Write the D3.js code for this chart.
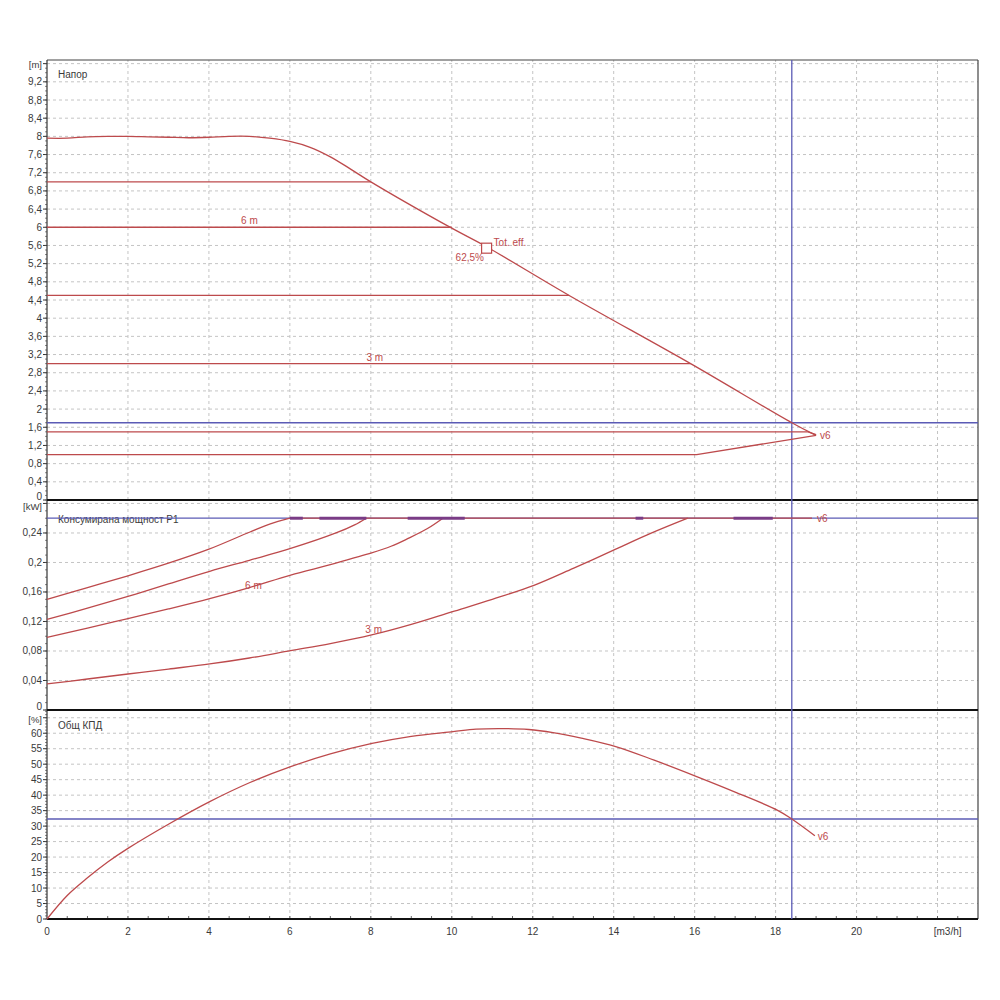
<!DOCTYPE html>
<html><head><meta charset="utf-8">
<script src="https://cdn.jsdelivr.net/npm/d3@7"></script>
<style>body{margin:0;background:#fff} svg{display:block} text{font-family:Arial,"Liberation Sans",sans-serif}</style>
</head><body><svg id="c" width="1000" height="1000"></svg>
<script>
// ---------------- DATA ----------------
const flowTicks = [0,2,4,6,8,10,12,14,16,18,20];
const flowUnit = "[m3/h]";
const headTicks = [0,0.4,0.8,1.2,1.6,2,2.4,2.8,3.2,3.6,4,4.4,4.8,5.2,5.6,6,6.4,6.8,7.2,7.6,8,8.4,8.8,9.2];
const headUnit = "[m]";
const powerTicks = [0,0.04,0.08,0.12,0.16,0.2,0.24];
const powerUnit = "[kW]";
const effTicks = [0,5,10,15,20,25,30,35,40,45,50,55,60];
const effUnit = "[%]";
const panelTitles = ["Напор","Консумирана мощност P1","Общ КПД"];

// max speed head curve
const headMaxX = [0,0.5,1,1.5,2,2.5,3,3.5,4,4.5,5,5.5,6,6.5,7,7.5,8,10,10.9,12.9,15.9,18.4,19.0];
const headMaxY = [7.96,7.96,7.99,8.0,8.0,7.99,7.98,7.97,7.98,8.0,8.0,7.96,7.89,7.76,7.55,7.28,7.0,5.98,5.55,4.5,3.0,1.7,1.42];
// constant head settings
const headLevels = [7,6,4.5,3,1.5];
const headLevelEnds = [8.0,10.0,12.9,15.9,18.8];
const headLevelLabels = ["","6 m","","3 m",""];
const headLabelX = [0,5.0,0,8.1,0];
// minimum curve
const headMinX = [0,16.05,19.0];
const headMinY = [1.0,1.0,1.42];

// power curves (kW)
const powerAX = [0,1,2,3,4,5,5.5,6.0];
const powerAY = [0.150,0.166,0.182,0.199,0.218,0.241,0.252,0.26];
const powerBX = [0,1,2,3,4.02,5,6.02,7.14,7.6,7.89];
const powerBY = [0.123,0.138,0.154,0.171,0.188,0.203,0.219,0.240,0.251,0.26];
const powerCX = [0,1,2,3,4.02,5,6.02,7,7.5,8.02,8.5,8.9,9.4,9.78];
const powerCY = [0.0985,0.111,0.124,0.137,0.151,0.166,0.183,0.197,0.205,0.213,0.222,0.232,0.246,0.26];
const powerDX = [0,1,2,3,4.02,5,6.02,7,8.02,9,10,11,12.03,13,14.05,14.94,15.83];
const powerDY = [0.0353,0.042,0.0488,0.0555,0.0624,0.0705,0.0805,0.090,0.1017,0.116,0.133,0.150,0.169,0.192,0.218,0.240,0.26];
const powerLimit = 0.26;
const powerLimitEnd = 18.9;
const purpleStart = [6.0,6.73,8.91,14.54,16.96];
const purpleEnd = [6.32,7.89,10.32,14.73,17.93];

// total efficiency (%)
const effX = [0,0.5,1.0,1.5,2.0,3.0,4.02,5.0,6.02,7.0,8.03,9.0,10.03,10.6,11.2,11.9,12.5,13.2,14.05,15.0,16.05,17.0,18.05,18.4,18.97];
const effY = [0,7.6,13.3,18.4,22.8,30.6,37.9,44.0,49.2,53.3,56.7,59.0,60.5,61.3,61.5,61.2,60.2,58.4,55.7,51.3,46.0,41.0,35.1,32.3,26.9];

// duty point
const dutyFlow = 18.4, dutyHead = 1.7, dutyPower = 0.26, dutyEff = 32.3;
const bepFlow = 10.86, bepHead = 5.54;
const bepLabels = ["Tot. eff.","62,5%"];
const curveName = "v6";

// ---------------- DRAW ----------------
const svg = d3.select("#c");
const L = 47, R = 978;
const x = d3.scaleLinear().domain([0,23]).range([L,R]);
const yH = d3.scaleLinear().domain([0,9.68]).range([500,60]);
const yP = d3.scaleLinear().domain([0,0.2847]).range([710,500]);
const yE = d3.scaleLinear().domain([0,67.5]).range([919,710]);
const RED = "#bd4a4c", BLUE = "#5b5bb5", GRID = "#c4c4c4", TXT = "#3a3a3a", PURPLE="#7a3c86";
const fmt = v => String(+v.toFixed(2)).replace(".", ",");

const panels = [
  {y:yH, ticks:headTicks, unit:headUnit, unitV:9.6, minor:0.1, title:panelTitles[0], titleY:78, zeroShift:-4, unitShift:1},
  {y:yP, ticks:powerTicks, unit:powerUnit, unitV:0.28, minor:0.01, title:panelTitles[1], titleY:523, zeroShift:-4, unitShift:3},
  {y:yE, ticks:effTicks, unit:effUnit, unitV:65, minor:1, title:panelTitles[2], titleY:729, zeroShift:0, unitShift:2}
];

const grid = svg.append("g");
const vg = d3.range(2,23,2);
panels.forEach(p => {
  const [y0,y1] = p.y.range();
  grid.selectAll(null).data(vg).enter().append("line")
    .attr("x1",d=>x(d)).attr("x2",d=>x(d)).attr("y1",y0).attr("y2",y1)
    .attr("stroke",GRID).attr("stroke-dasharray","3,3");
  grid.selectAll(null).data(p.ticks.concat([p.unitV]).filter(v=>v>0)).enter().append("line")
    .attr("x1",L).attr("x2",R).attr("y1",d=>p.y(d)).attr("y2",d=>p.y(d))
    .attr("stroke",GRID).attr("stroke-dasharray","3,3");
  const ax = svg.append("g");
  ax.selectAll(null).data(p.ticks).enter().append("text")
    .attr("x",42).attr("y",d=>p.y(d)+3.5+(d===0?p.zeroShift:0)).attr("text-anchor","end")
    .attr("font-size",10).attr("fill",TXT).text(fmt);
  ax.append("text").attr("x",42).attr("y",p.y(p.unitV)+3.5+p.unitShift).attr("text-anchor","end")
    .attr("font-size",9.5).attr("fill",TXT).text(p.unit);
  ax.selectAll(null).data(p.ticks.concat([p.unitV])).enter().append("line")
    .attr("x1",L-4).attr("x2",L).attr("y1",d=>p.y(d)).attr("y2",d=>p.y(d)).attr("stroke","#333");
  const top = p.y.domain()[1];
  const mins = d3.range(0, top, p.minor);
  ax.selectAll(null).data(mins).enter().append("line")
    .attr("x1",L-2).attr("x2",L).attr("y1",d=>p.y(d)).attr("y2",d=>p.y(d)).attr("stroke","#555").attr("stroke-width",0.7);
  svg.append("text").attr("x",58).attr("y",p.titleY).attr("font-size",10).attr("fill",TXT).text(p.title);
});

// x axis
svg.selectAll(null).data(flowTicks).enter().append("text")
  .attr("x",d=>x(d)).attr("y",935).attr("text-anchor","middle").attr("font-size",10).attr("fill",TXT).text(d=>d);
svg.append("text").attr("x",x(22.25)).attr("y",935).attr("text-anchor","middle").attr("font-size",10).attr("fill",TXT).text(flowUnit);
svg.selectAll(null).data(d3.range(0.5,23,0.5)).enter().append("line")
  .attr("x1",d=>x(d)).attr("x2",d=>x(d)).attr("y1",916).attr("y2",919).attr("stroke","#444").attr("stroke-width",0.8);

// borders
svg.append("line").attr("x1",L).attr("x2",R).attr("y1",60).attr("y2",60).attr("stroke","#444").attr("stroke-width",1.2);
svg.append("line").attr("x1",R).attr("x2",R).attr("y1",60).attr("y2",919).attr("stroke","#444").attr("stroke-width",1.2);
svg.append("line").attr("x1",L).attr("x2",L).attr("y1",60).attr("y2",919).attr("stroke","#333").attr("stroke-width",1.2);
[500,710,919].forEach(yy => svg.append("line").attr("x1",L).attr("x2",R).attr("y1",yy).attr("y2",yy).attr("stroke","#111").attr("stroke-width",2));

// blue duty lines
const blue = svg.append("g").attr("stroke",BLUE).attr("stroke-width",1.3);
blue.append("line").attr("x1",x(dutyFlow)).attr("x2",x(dutyFlow)).attr("y1",60).attr("y2",919);
blue.append("line").attr("x1",L).attr("x2",R).attr("y1",yH(dutyHead)).attr("y2",yH(dutyHead));
blue.append("line").attr("x1",L).attr("x2",R).attr("y1",yP(dutyPower)).attr("y2",yP(dutyPower));
blue.append("line").attr("x1",L).attr("x2",R).attr("y1",yE(dutyEff)).attr("y2",yE(dutyEff));

const curves = svg.append("g").attr("fill","none").attr("stroke",RED).attr("stroke-width",1.3);
const smooth = d3.curveCatmullRom.alpha(0.5);
function drawXY(xs, ys, yS, curve){
  const pts = xs.map((v,i)=>[v,ys[i]]);
  curves.append("path").attr("d", d3.line().x(d=>x(d[0])).y(d=>yS(d[1])).curve(curve||smooth)(pts));
}
// head panel
drawXY(headMaxX, headMaxY, yH);
headLevels.forEach((h,i)=>{
  const xs = i===4 ? [0, headLevelEnds[i], 19.0] : [0, headLevelEnds[i]];
  const ys = i===4 ? [h, h, 1.44] : [h, h];
  drawXY(xs, ys, yH, d3.curveLinear);
  if (headLevelLabels[i]) svg.append("text").attr("x",x(headLabelX[i])).attr("y",yH(h)-3)
    .attr("text-anchor","middle").attr("font-size",10).attr("fill",RED).text(headLevelLabels[i]);
});
drawXY(headMinX, headMinY, yH, d3.curveLinear);
svg.append("text").attr("x",x(19.0)+4).attr("y",yH(1.42)+4).attr("font-size",10).attr("fill",RED).text(curveName);
// BEP marker
svg.append("rect").attr("x",x(bepFlow)-5).attr("y",yH(bepHead)-5).attr("width",10).attr("height",10)
  .attr("fill","#fff").attr("stroke",RED).attr("stroke-width",1.2);
svg.append("text").attr("x",x(bepFlow)+7).attr("y",yH(bepHead)-2).attr("font-size",10).attr("fill",RED).text(bepLabels[0]);
svg.append("text").attr("x",x(bepFlow)-31).attr("y",yH(bepHead)+13).attr("font-size",10).attr("fill",RED).text(bepLabels[1]);

// power panel
drawXY(powerAX, powerAY, yP);
drawXY(powerBX, powerBY, yP);
drawXY(powerCX, powerCY, yP);
drawXY(powerDX, powerDY, yP);
drawXY([powerAX[powerAX.length-1], powerLimitEnd],[powerLimit,powerLimit], yP, d3.curveLinear);
svg.selectAll(null).data(purpleStart).enter().append("line")
  .attr("x1",d=>x(d)).attr("x2",(d,i)=>x(purpleEnd[i])).attr("y1",yP(powerLimit)).attr("y2",yP(powerLimit))
  .attr("stroke",PURPLE).attr("stroke-width",3);
svg.append("text").attr("x",x(5.1)).attr("y",yP(0.170)+4).attr("text-anchor","middle").attr("font-size",10).attr("fill",RED).text("6 m");
svg.append("text").attr("x",x(8.07)).attr("y",yP(0.110)+4).attr("text-anchor","middle").attr("font-size",10).attr("fill",RED).text("3 m");
svg.append("text").attr("x",x(18.9)+5).attr("y",yP(powerLimit)+4).attr("font-size",10).attr("fill",RED).text(curveName);

// efficiency panel
drawXY(effX, effY, yE);
svg.append("text").attr("x",x(18.97)+3).attr("y",yE(26.9)+4).attr("font-size",10).attr("fill",RED).text(curveName);
</script></body></html>
